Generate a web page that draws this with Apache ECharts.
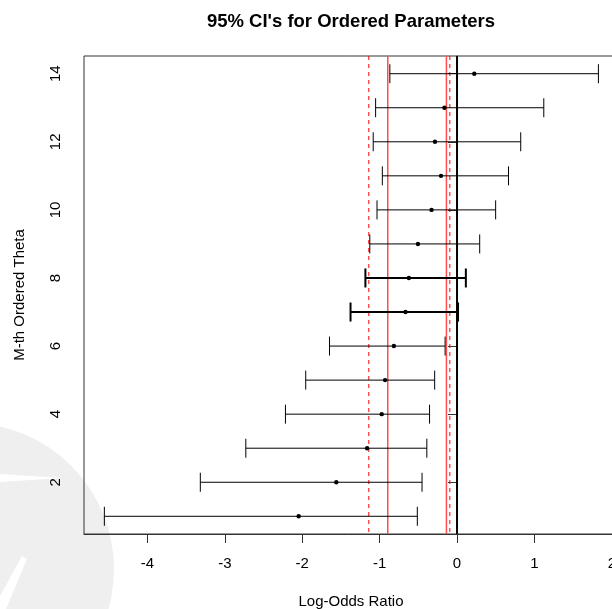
<!DOCTYPE html>
<html><head><meta charset="utf-8">
<script src="https://cdn.jsdelivr.net/npm/echarts@6/dist/echarts.min.js"></script>
<style>html,body{margin:0;padding:0;background:#fff}#c{width:612px;height:609px}</style>
</head><body><div id="c"></div>
<script>
const rows     = [1, 2, 3, 4, 5, 6, 7, 8, 9, 10, 11, 12, 13, 14];
const lower    = [-4.557, -3.317, -2.729, -2.217, -1.955, -1.648, -1.376, -1.184, -1.127, -1.034, -0.965, -1.083, -1.052, -0.868];
const estimate = [-2.046, -1.560, -1.162, -0.973, -0.930, -0.816, -0.666, -0.622, -0.505, -0.329, -0.207, -0.285, -0.163, 0.223];
const upper    = [-0.513, -0.452, -0.390, -0.355, -0.289, -0.154, 0.013, 0.114, 0.293, 0.499, 0.665, 0.823, 1.121, 1.827];
const boldRows = [7, 8];
const xTicks = [-4, -3, -2, -1, 0, 1, 2];
const yTicks = [2, 4, 6, 8, 10, 12, 14];
const redDashed = [-1.140, -0.093];
const redSolid = [-0.895, -0.137];
const zeroLine = [0];

const X_MIN = -4.82, X_MAX = 2.08, Y_MIN = 0.48, Y_MAX = 14.52;
const FONT = '"Liberation Sans", Arial, Helvetica, sans-serif';
const chart = echarts.init(document.getElementById('c'), null, {renderer: 'canvas'});

const refData = [];
redDashed.forEach(v => refData.push([v, 0]));
redSolid.forEach(v => refData.push([v, 1]));
zeroLine.forEach(v => refData.push([v, 2]));
const refStyles = [
  {stroke: '#ff0000', lineWidth: 1, lineDash: [4, 4]},
  {stroke: '#ff4d4d', lineWidth: 1.5},
  {stroke: '#000000', lineWidth: 2}
];

chart.setOption({
  animation: false,
  backgroundColor: '#fff',
  title: {
    text: "95% CI's for Ordered Parameters",
    left: 346, top: 7, textAlign: 'center',
    textStyle: {fontFamily: FONT, fontSize: 18.5, fontWeight: 'bold', color: '#000'}
  },
  graphic: [
    {type: 'circle', shape: {cx: -32, cy: 569, r: 146}, style: {fill: '#efefef'}, z: -10, silent: true},
    {type: 'polygon', shape: {points: [[0, 474], [62, 478], [0, 482]]}, style: {fill: '#ffffff'}, z: -9, silent: true},
    {type: 'polygon', shape: {points: [[0, 596], [22, 556], [27, 559], [6, 609], [0, 609]]}, style: {fill: '#ffffff'}, z: -9, silent: true}
  ],
  grid: {left: 84, width: 534, top: 56, bottom: 75, outerBoundsMode: 'none', containLabel: false,
         show: true, borderColor: '#333', borderWidth: 1, backgroundColor: 'transparent'},
  xAxis: {
    type: 'value', min: X_MIN, max: X_MAX,
    name: 'Log-Odds Ratio', nameLocation: 'middle', nameGap: 60,
    nameTextStyle: {fontFamily: FONT, fontSize: 15, color: '#000'},
    axisLine: {show: true, lineStyle: {color: '#333', width: 1}},
    axisTick: {show: true, length: 9, customValues: xTicks, lineStyle: {color: '#333'}},
    axisLabel: {customValues: xTicks, margin: 22, fontFamily: FONT, fontSize: 15, color: '#000'},
    splitLine: {show: false}
  },
  yAxis: {
    type: 'value', min: Y_MIN, max: Y_MAX,
    name: 'M-th Ordered Theta', nameLocation: 'middle', nameGap: 57, nameRotate: 90,
    nameTextStyle: {fontFamily: FONT, fontSize: 15, color: '#000'},
    axisLine: {show: true, lineStyle: {color: '#333', width: 1}},
    axisTick: {show: true, length: 9, customValues: yTicks, lineStyle: {color: '#333'}},
    axisLabel: {customValues: yTicks, rotate: 90, margin: 21, fontFamily: FONT, fontSize: 15, color: '#000'},
    splitLine: {show: false}
  },
  series: [{
    type: 'custom',
    coordinateSystem: 'cartesian2d',
    encode: {x: 0},
    data: refData,
    z: 1,
    renderItem: function (params, api) {
      const v = api.value(0);
      const s = refStyles[api.value(1)];
      const pT = api.coord([v, Y_MAX]);
      const pB = api.coord([v, Y_MIN]);
      return {type: 'line', shape: {x1: pT[0], y1: pT[1], x2: pB[0], y2: pB[1]}, style: Object.assign({}, s)};
    }
  }, {
    type: 'custom',
    coordinateSystem: 'cartesian2d',
    encode: {x: [1, 2, 3], y: 0},
    data: rows.map((r, i) => [r, lower[i], estimate[i], upper[i]]),
    z: 2,
    renderItem: function (params, api) {
      const y = api.value(0);
      const pL = api.coord([api.value(1), y]);
      const pM = api.coord([api.value(2), y]);
      const pH = api.coord([api.value(3), y]);
      const w = boldRows.indexOf(y) >= 0 ? 2 : 1;
      const cap = 9.5;
      const st = {stroke: '#000', lineWidth: w};
      return {type: 'group', children: [
        {type: 'line', shape: {x1: pL[0], y1: pL[1], x2: pH[0], y2: pH[1]}, style: st},
        {type: 'line', shape: {x1: pL[0], y1: pL[1] - cap, x2: pL[0], y2: pL[1] + cap}, style: st},
        {type: 'line', shape: {x1: pH[0], y1: pH[1] - cap, x2: pH[0], y2: pH[1] + cap}, style: st},
        {type: 'circle', shape: {cx: pM[0], cy: pM[1], r: 2.2}, style: {fill: '#000'}}
      ]};
    }
  }]
});
</script></body></html>
